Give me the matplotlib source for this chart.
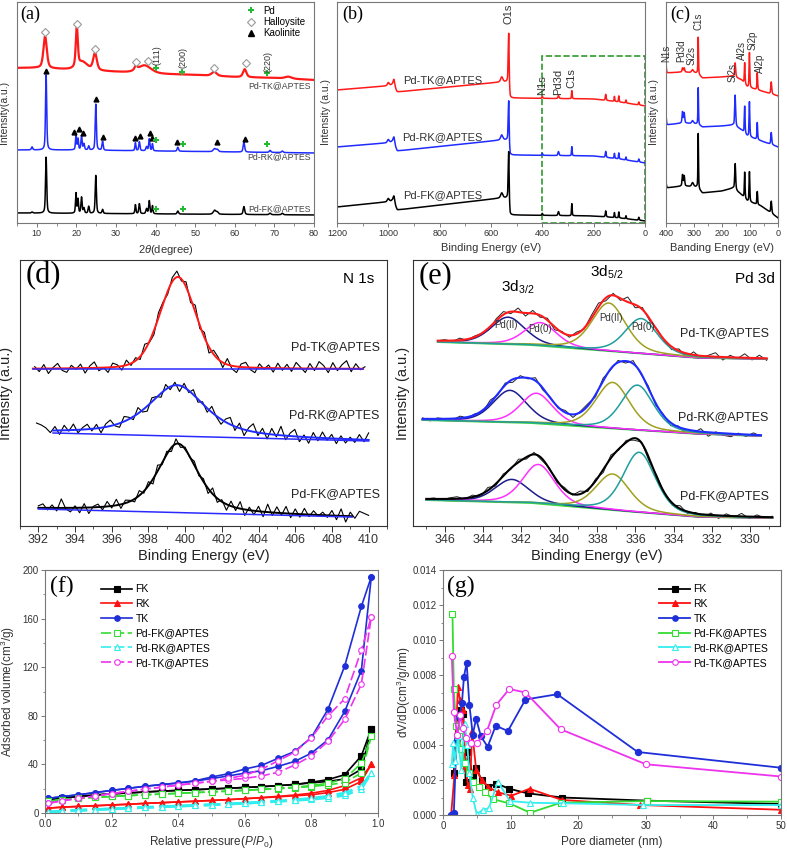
######################################################
# XRD / XPS / N2 sorption figure for Pd-kaolinite samples
######################################################

import numpy as np
import matplotlib
matplotlib.use('Agg')
import matplotlib.pyplot as plt
from matplotlib.lines import Line2D
from matplotlib.patches import Rectangle
from matplotlib.ticker import MultipleLocator, FormatStrFormatter

plt.rcParams['font.family'] = ['Liberation Sans', 'DejaVu Sans']
plt.rcParams['mathtext.fontset'] = 'custom'
plt.rcParams['mathtext.rm'] = 'Liberation Sans'
plt.rcParams['mathtext.it'] = 'Liberation Sans:italic'
plt.rcParams['mathtext.bf'] = 'Liberation Sans:bold'

# ---------------- (a) XRD, peak tables ----------------
xrd_tk_base_x = [5, 10, 15, 20, 30, 40, 50, 60, 70, 80]
xrd_tk_base_y = [155, 155, 154, 153, 151, 149, 148, 146, 145, 143]
xrd_tk_pos = [12.1, 20.1, 21.5, 24.7, 35.0, 37.2, 54.8, 62.5, 73.5]
xrd_tk_hgt = [32, 40, 8, 17, 4, 8, 4, 8, 2]
xrd_tk_wid = [1.0, 0.6, 3.0, 1.1, 0.8, 4.0, 1.5, 1.0, 2.0]

xrd_k_pos = [8.8, 12.35, 19.9, 20.4, 21.3, 21.9, 23.1, 24.9, 26.6, 34.9,
             35.9, 37.7, 38.4, 39.2, 45.6, 54.9, 55.6, 62.3, 68.9, 72.0]
xrd_k_wid = [0.4, 0.35, 0.3, 0.3, 0.35, 0.35, 0.35, 0.35, 0.35, 0.3,
             0.35, 0.4, 0.35, 0.3, 0.4, 0.8, 0.6, 0.45, 0.5, 0.5]
xrd_rk_hgt = [3, 75, 16, 11, 14, 6, 4, 46, 9, 8, 9, 4, 12, 7, 4, 3, 2, 10, 2, 1.5]
xrd_fk_hgt = [1, 56, 20, 14, 16, 5, 7, 38, 4, 9, 10, 5, 13, 8, 3, 4, 2, 8, 1.5, 1.5]
xrd_rk_base_x = [5, 20, 40, 60, 80]
xrd_rk_base_y = [73, 73, 72, 71, 70]
xrd_fk_base_x = [5, 80]
xrd_fk_base_y = [10, 8]

halloysite_x = [11.95, 20.1, 24.75, 35.1, 38.2, 54.7, 62.9]
halloysite_y = [191, 199, 174, 161, 162, 155, 160]
kaolinite_x = [12.4, 19.45, 20.6, 21.7, 25.0, 26.7, 34.9, 36.1, 38.5, 39.1, 45.5, 55.5, 62.6]
kaolinite_y = [152, 91, 94, 90, 124, 86, 85, 87, 90, 85, 81, 81, 84]
pd_xrd_x = [40.2, 46.7, 68.2, 40.2, 46.8, 68.1, 40.2, 46.8]
pd_xrd_y = [155, 151, 150, 83, 79, 79, 14, 14]
hkl_labels = ['(111)', '(200)', '(220)']
hkl_x = [40.3, 46.8, 68.3]
hkl_y = [158, 155, 151]

# ---------------- (b) XPS survey ----------------
b_pos = [1000, 978, 558, 531, 400, 337, 285, 153, 119, 102, 74, 24]
b_wid = [8, 8, 10, 4, 4, 5, 3, 4, 3, 3, 3, 4]
b_tk_hgt = [3, 8, 5, 55, 2, 3, 8, 6, 5, 6, 3, 3]
b_rk_hgt = [3, 8, 5, 45, 2, 4, 9, 6, 5, 6, 3, 3]
b_fk_hgt = [3, 8, 5, 53, 2, 4, 12, 6, 5, 6, 3, 3]
b_base_x = [0, 100, 200, 525, 535, 560, 965, 985, 1010, 1200]
b_tk_base = [117, 121, 124, 125, 141, 141, 131, 138, 137, 133]
b_rk_base = [60, 64, 67, 68, 83, 83, 72, 81, 80, 76]
b_fk_base = [2, 5, 7, 8, 25, 25, 13, 22, 21, 16]

# ---------------- (c) XPS survey, low energy part ----------------
c_pos = [400, 341, 335, 305, 285, 153, 119, 102, 74, 24]
c_wid = [3, 4, 4, 8, 2.5, 4, 3, 3, 3, 4]
c_tk_hgt = [9, 4, 4, 3, 37, 14, 21, 35, 17, 12]
c_rk_hgt = [10, 11, 10, 3, 37, 31, 27, 35, 17, 12]
c_fk_hgt = [6, 11, 10, 4, 55, 26, 26, 30, 13, 12]
c_base_x = [0, 60, 110, 130, 160, 200, 270, 290, 340, 400]
c_tk_base = [127, 132, 136, 143, 147, 146, 145, 150, 151, 150]
c_rk_base = [76, 82, 87, 93, 98, 97, 96, 99, 100, 98]
c_fk_base = [5, 17, 22, 28, 35, 32, 30, 36, 37, 35]
c_labels = ['N1s', 'Pd3d', 'Si2s', 'C1s', 'Si2s', 'Al2s', 'Si2p', 'Al2p']
c_label_x = [398, 345, 309, 285, 163, 127, 91, 66]
c_label_y = [161, 161, 158, 193, 141, 163, 173, 150]

# ---------------- (d) N 1s ----------------
d_tk_base_x = [391.7, 409.7]
d_tk_base_y = [157, 157]
d_tk_peak = [399.6, 92, 2.3, 0.2]      # centre, height, fwhm, lorentz part
d_rk_base_x = [392.8, 410.0]
d_rk_base_y = [93, 85]
d_rk_peak = [399.55, 51, 3.7, 0.7]
d_fk_base_x = [392.0, 409.1]
d_fk_base_y = [17, 9]
d_fk_peak = [399.6, 69, 2.6, 0.6]
d_noise_tk = [2, -3, 4, -5, 1, 5, -2, -4, 3, -1, 4, -5, 2, 6, -3, 0, -5, 4, 2, -4,
              5, -2, 3, -3, 6, -1, -4, 5, 2, -3, 4, 6, -2, 5, -4, 7, -3, 5, -6, 4,
              2, -5, 6, -3, -6, 3, 5, -2, -5, 4, -1, 3, -4, 5, -2, 4, -3, 6, 1, -4,
              5, -2, 7, 3, -4, 6, -2, 4, 8, -3, 5, -1, 2]
d_noise_rk = [8, 6, 3, -2, 4, -4, 5, -1, 6, -3, 2, 5, -2, 4, -5, 3, 6, -1, -4, 5,
              2, -3, 6, -2, -5, 4, 1, -4, 5, -3, 3, -6, 4, -2, 5, -3, 2, -4, 6, -1,
              -5, 3, 7, -4, 5, -6, 3, 8, -3, 5, -5, 6, -2, 9, -4, 3, 7, -5, 2, -6,
              5, -3, 6, -2, 4, -5, 3, -4, 2, -3, 5, -2, 7]
d_noise_fk = [2, 4, -2, 3, -3, 9, -1, -4, 2, -5, 4, -6, 1, 3, -3, 5, -2, 6, -4, 3,
              1, -3, 5, -2, 4, -5, 6, -2, 3, -4, 5, -3, 2, -1, 4, -2, 3, -5, 6, -4,
              2, -6, 5, -3, 7, -6, 3, -4, 5, -5, 8, -3, 6, -2, 7, -4, 5, -3, 6, -2,
              4, -1, 3, -2, 5, -4, 7, -6, 4, -2, 5, 3, 1]

# ---------------- (e) Pd 3d ----------------
e_names = ['Pd(II)', 'Pd(0)', 'Pd(II)', 'Pd(0)']
e_wid = [2.1, 2.0, 2.1, 2.0]
e_tk_pos = [342.7, 341.0, 337.4, 335.7]
e_tk_hgt = [27, 23, 48, 35]
e_rk_pos = [342.6, 341.2, 337.2, 335.9]
e_rk_hgt = [32, 30, 46, 45]
e_fk_pos = [342.5, 341.1, 337.2, 335.8]
e_fk_hgt = [23, 39, 36, 60]
e_tk_base_x = [329.1, 332.6, 336.1, 341.4, 346.4]
e_tk_base_y = [167, 168, 173, 181, 184]
e_rk_base_x = [329.4, 332.6, 336.0, 341.4, 347.2]
e_rk_base_y = [90, 92, 96, 103, 106]
e_fk_base_x = [328.8, 332.6, 336.0, 341.4, 347.0]
e_fk_base_y = [8, 9, 14, 23, 26]
e_noise_tk = [0, 1, -1, 2, -1, 1, 0, -2, 2, 3, -2, 4, -3, 3, -2, 2, -3, 1, -2, 2,
              -1, 3, 4, -3, 2, -2, 5, -3, 2, -2, 1, -1, -3, 2, -4, 3, -2, 1, 4, -3,
              2, -1, 4, -2, 3, -2]
e_noise_rk = [1, -2, 1, 0, -1, 2, -1, 1, -2, 3, -1, 2, -3, 2, -1, 3, -2, 1, -1, 2,
              -3, 1, 2, -2, 3, -1, 2, -2, 3, -1, 2, -2, 1, -3, 1, -4, -2, 3, -4, 1,
              -2, -3, 1, -2, 2, -1]
e_noise_fk = [0, 1, -1, 1, 2, -1, 2, -2, 3, -2, 2, -1, 3, -2, 2, -2, 1, -2, 2, -1,
              3, -2, 2, -3, 3, -1, 2, -2, 1, -3, 2, -1, -2, 3, -2, 1, -3, 2, -3, 2,
              -1, 3, -2, 2, -1, 1]

# ---------------- (f) N2 isotherms ----------------
p_rel = [0.01, 0.05, 0.1, 0.15, 0.2, 0.25, 0.3, 0.35, 0.4, 0.45, 0.5,
         0.55, 0.6, 0.65, 0.7, 0.75, 0.8, 0.85, 0.9, 0.95, 0.98]
fk_des = [11, 12.5, 13.5, 14.8, 15.8, 16.5, 17.3, 18, 18.6, 19.2, 19.8, 20.4, 21, 21.7, 22.5, 23.5, 25.3, 27.5, 31.5, 47, 69.5]
fk_ads = [11, 12.5, 13.5, 14.8, 15.8, 16.5, 17.3, 18, 18.6, 19.2, 19.8, 20.4, 21, 21.7, 22.5, 23.5, 24.8, 26, 28, 36, 69.5]
rk_des = [4, 4.8, 5.4, 6, 6.6, 7.2, 7.9, 8.5, 9.1, 9.7, 10.3, 11, 11.8, 12.7, 13.7, 14.8, 16.3, 18.6, 22.5, 29, 40]
rk_ads = [4, 4.8, 5.4, 6, 6.6, 7.2, 7.9, 8.5, 9.1, 9.7, 10.3, 11, 11.8, 12.5, 13.3, 14.2, 15, 16.8, 19.5, 26, 40]
tk_des = [12, 13.5, 15, 16.8, 18.6, 20.3, 22, 23.4, 24.7, 26.5, 29.6, 32.3, 36.2, 39.2, 45, 50.7, 62.2, 85.5, 121, 170, 194.5]
tk_ads = [12, 13.5, 15, 16.8, 18.6, 20.3, 22, 23.4, 24.7, 26.3, 28.3, 30.5, 32.8, 34.8, 38.4, 42.5, 49.3, 60.3, 83.6, 117.3, 194.5]
pdfk_des = [9.5, 11, 12, 12.8, 13.6, 14.3, 15, 15.6, 16.2, 16.8, 17.4, 18, 18.7, 19.5, 20.3, 21.3, 22.6, 24.5, 28, 41, 63]
pdfk_ads = [9.5, 11, 12, 12.8, 13.6, 14.3, 15, 15.6, 16.2, 16.8, 17.4, 18, 18.7, 19.4, 20, 20.8, 21.8, 23.2, 25, 33, 63]
pdrk_des = [0.8, 1.5, 2.2, 2.8, 3.4, 4, 4.6, 5.1, 5.7, 6.2, 6.8, 7.4, 8.1, 8.9, 9.8, 10.8, 12.1, 13.8, 16.5, 22, 33]
pdrk_ads = [0.8, 1.5, 2.2, 2.8, 3.4, 4, 4.6, 5.1, 5.7, 6.2, 6.8, 7.4, 8.1, 8.8, 9.6, 10.4, 11.3, 12.6, 14.5, 20, 33]
pdtk_des = [8, 10, 12, 14, 16, 17.8, 19.7, 21.3, 23, 24.5, 26.3, 28.5, 31, 36, 43, 50, 62, 80, 94, 134, 161.5]
pdtk_ads = [8, 10, 12, 14, 16, 17.8, 19.7, 21.3, 23, 24.5, 26, 27.3, 28.5, 30.5, 33.5, 39.5, 47, 59, 77, 106, 161.5]

# ---------------- (g) pore size distribution ----------------
fk_d = [1.6, 2.0, 2.6, 3.0, 3.35, 3.7, 4.4, 4.9, 5.7, 6.7, 7.9, 9.8, 12.5, 17.6, 30.2, 50]
fk_v = [0.0024, 0.0056, 0.0060, 0.0058, 0.0019, 0.0036, 0.0022, 0.0027, 0.0020, 0.0016, 0.0018, 0.0015, 0.00124, 0.0010, 0.00082, 0.00063]
rk_d = [1.2, 1.7, 2.2, 2.5, 2.9, 3.3, 3.7, 4.0, 4.3, 4.9, 5.7, 6.7, 8.1, 10.1, 12.8, 17.6, 29.2, 50]
rk_v = [0.0, 0.0023, 0.0073, 0.0066, 0.0060, 0.0028, 0.0017, 0.0015, 0.0048, 0.0026, 0.0020, 0.0016, 0.0013, 0.0011, 0.0015, 0.00086, 0.00057, 0.0003]
tk_d = [1.2, 1.6, 2.0, 2.4, 2.8, 3.1, 3.5, 3.9, 4.4, 4.9, 5.6, 6.6, 7.8, 9.6, 12.2, 16.9, 28.8, 50]
tk_v = [0.0, 0.0001, 0.0043, 0.0056, 0.0064, 0.0079, 0.0087, 0.0063, 0.0046, 0.0055, 0.0045, 0.0039, 0.0051, 0.0048, 0.0066, 0.0069, 0.0036, 0.0027]
pdfk_d = [1.4, 1.6, 1.9, 2.3, 2.7, 3.2, 3.8, 4.5, 5.3, 6.2, 7.4, 9.8, 12.9, 17.4, 30.2, 50]
pdfk_v = [0.0115, 0.0072, 0.0051, 0.0045, 0.0038, 0.0030, 0.0024, 0.0019, 0.0016, 0.0013, 0.0009, 0.00067, 0.00013, 0.0007, 0.0008, 0.00076]
pdrk_d = [1.3, 1.5, 1.8, 2.2, 2.7, 3.2, 3.6, 3.9, 4.4, 5.0, 5.9, 6.8, 8.1, 9.9, 12.9, 17.8, 29.6, 50]
pdrk_v = [0.0029, 0.0041, 0.0031, 0.0045, 0.0026, 0.0052, 0.0040, 0.0024, 0.0010, 0.00005, 0.0003, 0.0004, 0.0019, 0.0008, 0.0007, 0.00067, 0.00057, 0.00057]
pdtk_d = [1.3, 1.6, 2.1, 2.5, 2.9, 3.4, 4.2, 5.0, 6.5, 7.9, 9.8, 12.2, 17.4, 30, 50]
pdtk_v = [0.0091, 0.0059, 0.0046, 0.0057, 0.0050, 0.0044, 0.0041, 0.0041, 0.0048, 0.0063, 0.0072, 0.0070, 0.0049, 0.0029, 0.0022]

sample_names = ['Pd-TK@APTES', 'Pd-RK@APTES', 'Pd-FK@APTES']
iso_names = ['FK', 'RK', 'TK', 'Pd-FK@APTES', 'Pd-RK@APTES', 'Pd-TK@APTES']

RED = '#ff1a1a'
BLUE = '#1f2bff'
SERIF = 'Liberation Serif'


def pv(x, c, h, w, eta=0.3):
    # pseudo-Voigt line shape
    d = (x - c) / w
    return h * ((1 - eta) * np.exp(-4 * np.log(2) * d ** 2) + eta / (1 + 4 * d ** 2))


def spectrum(x, bx, by, pos, hgt, wid, eta=0.5):
    order = np.argsort(bx)
    y = np.interp(x, np.asarray(bx, float)[order], np.asarray(by, float)[order])
    for c, h, w in zip(pos, hgt, wid):
        y = y + pv(x, c, h, w, eta)
    return y


def style(ax, color, size):
    for s in ax.spines.values():
        s.set_color(color)
        s.set_linewidth(0.8)
    ax.tick_params(which='both', direction='out', colors=color, labelcolor='#333333',
                   labelsize=size, pad=1.5)
    ax.tick_params(which='major', length=3, width=0.7)
    ax.tick_params(which='minor', length=1.8, width=0.6)


fig = plt.figure(figsize=(7.87, 8.51), dpi=100)

# ---------------- (a) ----------------
ax = fig.add_axes([0.0216, 0.7380, 0.3774, 0.2597])
x = np.linspace(5, 80, 3000)
ax.plot(x, spectrum(x, xrd_tk_base_x, xrd_tk_base_y, xrd_tk_pos, xrd_tk_hgt, xrd_tk_wid), color=RED, lw=1.6)
ax.plot(x, spectrum(x, xrd_rk_base_x, xrd_rk_base_y, xrd_k_pos, xrd_rk_hgt, xrd_k_wid), color=BLUE, lw=1.1)
ax.plot(x, spectrum(x, xrd_fk_base_x, xrd_fk_base_y, xrd_k_pos, xrd_fk_hgt, xrd_k_wid), color='black', lw=1.1)
ax.plot(halloysite_x, halloysite_y, ls='none', marker='D', mfc='white', mec='#9a9a9a', ms=4, mew=0.8)
ax.plot(kaolinite_x, kaolinite_y, ls='none', marker='^', color='black', ms=3.5)
ax.plot(pd_xrd_x, pd_xrd_y, ls='none', marker='P', color='#22bb33', ms=4, mew=0)
for lab, hx, hy in zip(hkl_labels, hkl_x, hkl_y):
    ax.text(hx, hy, lab, rotation=90, ha='center', va='bottom', fontsize=6.5, color='#333333')
for name, yy in zip(sample_names, [137, 66, 14]):
    ax.text(79.3, yy, name, ha='right', va='center', fontsize=6.3, color='#444444')
handles = [Line2D([], [], ls='none', marker='P', color='#22bb33', ms=4, mew=0),
           Line2D([], [], ls='none', marker='D', mfc='white', mec='#9a9a9a', ms=4, mew=0.8),
           Line2D([], [], ls='none', marker='^', color='black', ms=4)]
ax.legend(handles, ['Pd', 'Halloysite', 'Kaolinite'], loc='upper right', bbox_to_anchor=(0.99, 1.01),
          frameon=False, fontsize=7, handletextpad=0.2, labelspacing=0.15, borderaxespad=0.2)
ax.set_xlim(5, 80)
ax.set_ylim(0, 221)
ax.set_yticks([])
ax.set_xticks(range(10, 81, 10))
ax.xaxis.set_minor_locator(MultipleLocator(5))
style(ax, '#777777', 6.5)
ax.set_ylabel('Intensity(a.u.)', fontsize=7.5, color='#333333')
ax.yaxis.set_label_coords(-0.027, 0.5)
ax.set_xlabel(r'2$\theta$(degree)', fontsize=8, color='#333333')
ax.xaxis.set_label_coords(0.5, -0.09)
ax.text(0.01, 0.985, '(a)', transform=ax.transAxes, family=SERIF, fontsize=13, va='top')

# ---------------- (b) ----------------
ax = fig.add_axes([0.4282, 0.7380, 0.3914, 0.2597])
x = np.linspace(0, 1200, 4800)
ax.plot(x, spectrum(x, b_base_x, b_tk_base, b_pos, b_tk_hgt, b_wid), color=RED, lw=1.1)
ax.plot(x, spectrum(x, b_base_x, b_rk_base, b_pos, b_rk_hgt, b_wid), color=BLUE, lw=1.1)
ax.plot(x, spectrum(x, b_base_x, b_fk_base, b_pos, b_fk_hgt, b_wid), color='black', lw=1.1)
ax.add_patch(Rectangle((0, 0), 400, 167, fill=False, ls='--', ec='#2e9a2e', lw=1.2, clip_on=False))
for name, yy in zip(sample_names, [143, 86, 28]):
    ax.text(790, yy, name, ha='center', va='center', fontsize=8, color='#333333')
ax.text(530, 199, 'O1s', rotation=90, ha='center', va='bottom', fontsize=8, color='#333333')
ax.text(401, 128, 'N1s', rotation=90, ha='center', va='bottom', fontsize=8, color='#333333')
ax.text(339, 128, 'Pd3d', rotation=90, ha='center', va='bottom', fontsize=8, color='#333333')
ax.text(285, 135, 'C1s', rotation=90, ha='center', va='bottom', fontsize=8, color='#333333')
ax.set_xlim(1200, 0)
ax.set_ylim(0, 221)
ax.set_yticks([])
ax.xaxis.set_major_locator(MultipleLocator(200))
ax.xaxis.set_minor_locator(MultipleLocator(100))
style(ax, '#777777', 6.5)
ax.set_ylabel('Intensity (a.u.)', fontsize=7.5, color='#333333')
ax.yaxis.set_label_coords(-0.02, 0.5)
ax.set_xlabel('Binding Energy (eV)', fontsize=8, color='#333333')
ax.xaxis.set_label_coords(0.5, -0.09)
ax.text(0.016, 0.985, '(b)', transform=ax.transAxes, family=SERIF, fontsize=13, va='top')

# ---------------- (c) ----------------
ax = fig.add_axes([0.8463, 0.7380, 0.1423, 0.2597])
x = np.linspace(0, 400, 2000)
ax.plot(x, spectrum(x, c_base_x, c_tk_base, c_pos, c_tk_hgt, c_wid), color=RED, lw=1.1)
ax.plot(x, spectrum(x, c_base_x, c_rk_base, c_pos, c_rk_hgt, c_wid), color=BLUE, lw=1.1)
ax.plot(x, spectrum(x, c_base_x, c_fk_base, c_pos, c_fk_hgt, c_wid), color='black', lw=1.1)
for lab, lx, ly in zip(c_labels, c_label_x, c_label_y):
    ax.text(lx, ly, lab, rotation=90, ha='center', va='bottom', fontsize=7, color='#333333')
ax.set_xlim(400, 0)
ax.set_ylim(0, 221)
ax.set_yticks([])
ax.xaxis.set_major_locator(MultipleLocator(100))
ax.xaxis.set_minor_locator(MultipleLocator(50))
style(ax, '#777777', 6.5)
ax.set_ylabel('Intensity (a.u.)', fontsize=7.5, color='#333333')
ax.yaxis.set_label_coords(-0.06, 0.5)
ax.set_xlabel('Banding Energy (eV)', fontsize=8, color='#333333')
ax.xaxis.set_label_coords(0.5, -0.09)
ax.text(0.04, 0.985, '(c)', transform=ax.transAxes, family=SERIF, fontsize=13, va='top')

# ---------------- (d) ----------------
ax = fig.add_axes([0.0254, 0.3819, 0.4663, 0.3126])
sets = [(d_tk_base_x, d_tk_base_y, d_tk_peak, d_noise_tk, RED, 391.8, 409.8),
        (d_rk_base_x, d_rk_base_y, d_rk_peak, d_noise_rk, BLUE, 391.9, 410.0),
        (d_fk_base_x, d_fk_base_y, d_fk_peak, d_noise_fk, 'black', 392.0, 410.0)]
for bx, by, pk, noise, col, r0, r1 in sets:
    xr = np.linspace(r0, r1, len(noise))
    raw = spectrum(xr, bx, by, [pk[0]], [pk[1]], [pk[2]], pk[3]) + np.array(noise)
    ax.plot(xr, raw, color='black', lw=0.8)
    xf = np.linspace(bx[0], bx[-1], 500)
    ax.plot(xf, spectrum(xf, bx, by, [pk[0]], [pk[1]], [pk[2]], pk[3]), color=col, lw=1.4)
    ax.plot(bx, by, color='#2a2aff', lw=1.1)
for name, yy in zip(sample_names, [179, 111, 32]):
    ax.text(410.6, yy, name, ha='right', va='center', fontsize=9, color='#222222')
ax.text(0.965, 0.955, 'N 1s', transform=ax.transAxes, ha='right', va='top', fontsize=11)
ax.set_xlim(391, 411)
ax.set_ylim(0, 266)
ax.set_yticks([])
ax.set_xticks(range(392, 411, 2))
ax.xaxis.set_minor_locator(MultipleLocator(1))
style(ax, '#333333', 9)
ax.tick_params(which='major', length=4)
ax.tick_params(which='minor', length=2.5)
ax.set_ylabel('Intensity (a.u.)', fontsize=10.5, color='#222222')
ax.yaxis.set_label_coords(-0.019, 0.5)
ax.set_xlabel('Binding Energy (eV)', fontsize=10.5, color='#222222')
ax.xaxis.set_label_coords(0.5, -0.088)
ax.text(0.014, 0.995, '(d)', transform=ax.transAxes, family=SERIF, fontsize=22, va='top')

# ---------------- (e) ----------------
ax = fig.add_axes([0.5248, 0.3819, 0.4663, 0.3126])
comp_cols = ['#1c1c8c', '#ff30ff', '#a0a020', '#1f9e9e']
sets = [(e_tk_base_x, e_tk_base_y, e_tk_pos, e_tk_hgt, e_noise_tk, RED),
        (e_rk_base_x, e_rk_base_y, e_rk_pos, e_rk_hgt, e_noise_rk, BLUE),
        (e_fk_base_x, e_fk_base_y, e_fk_pos, e_fk_hgt, e_noise_fk, 'black')]
for bx, by, pos, hgt, noise, col in sets:
    xf = np.linspace(min(bx), max(bx), 600)
    base = spectrum(xf, bx, by, [], [], [])
    xr = np.linspace(max(bx), min(bx), len(noise))
    raw = spectrum(xr, bx, by, pos, hgt, e_wid, 0.35) + np.array(noise)
    ax.plot(xr, raw, color='#222222', lw=0.7)
    ax.plot(xf, base, color='#3fd43f', lw=1.4)
    for c, h, w, cc in zip(pos, hgt, e_wid, comp_cols):
        ax.plot(xf, base + pv(xf, c, h, w, 0.35), color=cc, lw=1.1)
    ax.plot(xf, spectrum(xf, bx, by, pos, hgt, e_wid, 0.35), color=col, lw=1.5)
for name, ex, ey in zip(e_names, [342.8, 341.0, 337.3, 335.6], [201, 197, 208, 199]):
    ax.text(ex, ey, name, ha='center', va='center', fontsize=7, color='#333333')
for name, yy in zip(sample_names, [193, 109, 30]):
    ax.text(329.0, yy, name, ha='right', va='center', fontsize=9, color='#222222')
ax.text(342.2, 239, r'3d$_{3/2}$', ha='center', va='center', fontsize=11)
ax.text(337.5, 254, r'3d$_{5/2}$', ha='center', va='center', fontsize=11)
ax.text(0.985, 0.955, 'Pd 3d', transform=ax.transAxes, ha='right', va='top', fontsize=11)
ax.set_xlim(347.7, 328.4)
ax.set_ylim(0, 266)
ax.set_yticks([])
ax.set_xticks(range(346, 329, -2))
ax.xaxis.set_minor_locator(MultipleLocator(1))
style(ax, '#333333', 9)
ax.tick_params(which='major', length=4)
ax.tick_params(which='minor', length=2.5)
ax.set_ylabel('Intensity (a.u.)', fontsize=10.5, color='#222222')
ax.yaxis.set_label_coords(-0.008, 0.5)
ax.set_xlabel('Binding Energy (eV)', fontsize=10.5, color='#222222')
ax.xaxis.set_label_coords(0.5, -0.088)
ax.text(0.014, 0.995, '(e)', transform=ax.transAxes, family=SERIF, fontsize=22, va='top')

# ---------------- (f) ----------------
ax = fig.add_axes([0.0572, 0.04465, 0.4231, 0.2855])
iso = [(fk_ads, fk_des, 'black', 's', 'black', '-'),
       (rk_ads, rk_des, '#ff1010', '^', '#ff1010', '-'),
       (tk_ads, tk_des, '#1f2fd8', 'o', '#1f2fd8', '-'),
       (pdfk_ads, pdfk_des, '#33dd33', 's', 'white', (0, (6, 2))),
       (pdrk_ads, pdrk_des, '#33eeee', '^', 'white', (0, (6, 2))),
       (pdtk_ads, pdtk_des, '#ee33ee', 'o', 'white', (0, (6, 2)))]
handles = []
for ads, des, col, mk, fc, ls in iso:
    lw = 2.0 if col == '#33eeee' else 1.2
    for yy in (ads, des):
        ax.plot(p_rel, yy, color=col, ls=ls, lw=lw, marker=mk, mfc=fc, mec=col, ms=4, mew=0.8)
    handles.append(Line2D([], [], color=col, ls=ls, lw=1.2, marker=mk, mfc=fc, mec=col, ms=4, mew=0.8))
ax.legend(handles, iso_names, loc='upper left', bbox_to_anchor=(0.14, 0.98), frameon=False,
          fontsize=7.5, numpoints=1, handlelength=3, handletextpad=0.3, labelspacing=0.45)
ax.set_xlim(0, 1.0)
ax.set_ylim(0, 200)
ax.xaxis.set_major_locator(MultipleLocator(0.2))
ax.xaxis.set_minor_locator(MultipleLocator(0.1))
ax.yaxis.set_major_locator(MultipleLocator(40))
ax.yaxis.set_minor_locator(MultipleLocator(20))
ax.xaxis.set_major_formatter(FormatStrFormatter('%.1f'))
style(ax, '#777777', 7)
ax.set_ylabel('Adsorbed volume(cm$^3$/g)', fontsize=8.5, color='#333333')
ax.yaxis.set_label_coords(-0.085, 0.5)
ax.set_xlabel(r'Relative pressure($P/P_0$)', fontsize=8.5, color='#333333')
ax.xaxis.set_label_coords(0.5, -0.085)
ax.text(0.015, 0.975, '(f)', transform=ax.transAxes, family=SERIF, fontsize=17, va='top')

# ---------------- (g) ----------------
ax = fig.add_axes([0.5629, 0.0423, 0.4295, 0.2879])
psd = [(fk_d, fk_v, 'black', 's', 'black'),
       (rk_d, rk_v, '#ff1010', '^', '#ff1010'),
       (tk_d, tk_v, '#1f2fd8', 'o', '#1f2fd8'),
       (pdfk_d, pdfk_v, '#33dd33', 's', 'white'),
       (pdrk_d, pdrk_v, '#33eeee', '^', 'white'),
       (pdtk_d, pdtk_v, '#ee33ee', 'o', 'white')]
handles = []
for dd, vv, col, mk, fc in psd:
    ax.plot(dd, vv, color=col, lw=1.3, marker=mk, mfc=fc, mec=col, ms=4.5, mew=0.8)
    handles.append(Line2D([], [], color=col, lw=1.3, marker=mk, mfc=fc, mec=col, ms=4, mew=0.8))
ax.legend(handles, iso_names, loc='upper right', bbox_to_anchor=(0.99, 0.98), frameon=False,
          fontsize=7.5, numpoints=1, handlelength=3, handletextpad=0.3, labelspacing=0.45)
ax.set_xlim(0, 50)
ax.set_ylim(0, 0.014)
ax.xaxis.set_major_locator(MultipleLocator(10))
ax.xaxis.set_minor_locator(MultipleLocator(5))
ax.yaxis.set_major_locator(MultipleLocator(0.002))
ax.yaxis.set_minor_locator(MultipleLocator(0.001))
ax.yaxis.set_major_formatter(FormatStrFormatter('%.3f'))
style(ax, '#777777', 7)
ax.set_ylabel('dV/dD(cm$^3$/g/nm)', fontsize=8.5, color='#333333')
ax.yaxis.set_label_coords(-0.088, 0.5)
ax.set_xlabel('Pore diameter (nm)', fontsize=8.5, color='#333333')
ax.xaxis.set_label_coords(0.5, -0.085)
ax.text(0.012, 0.975, '(g)', transform=ax.transAxes, family=SERIF, fontsize=17, va='top')

fig.savefig('out.png', dpi=100, facecolor='white')
